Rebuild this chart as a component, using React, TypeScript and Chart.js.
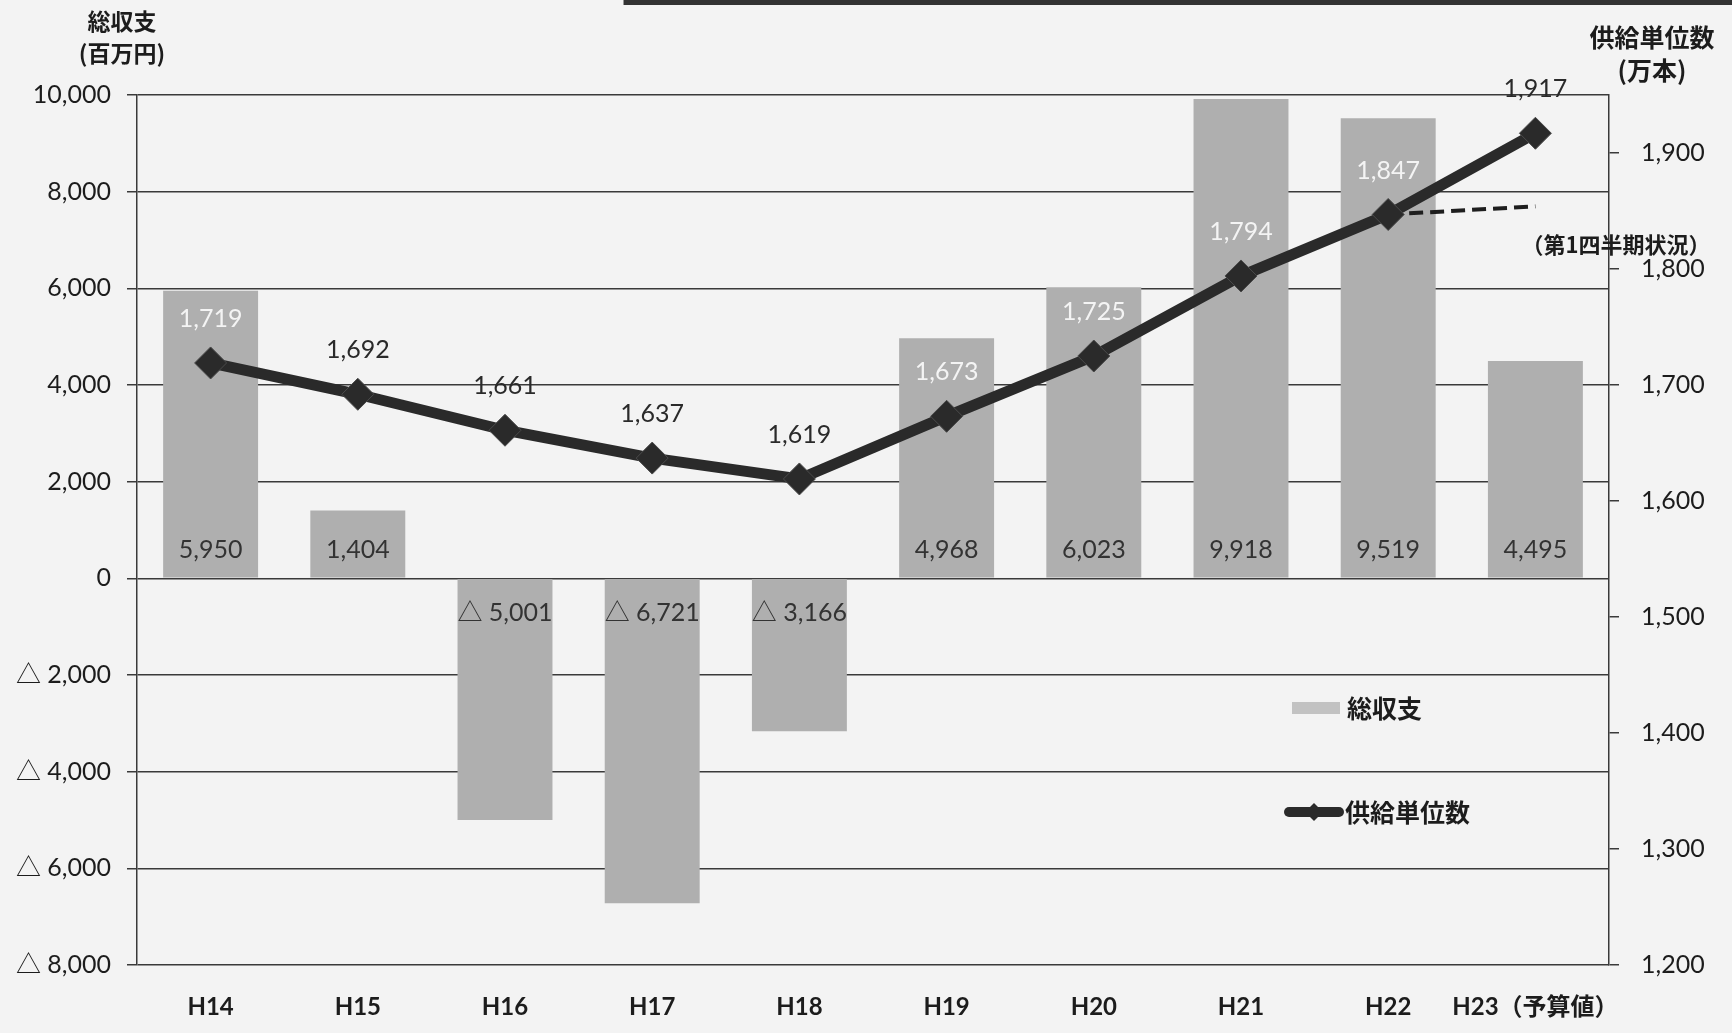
import React, { useEffect, useRef } from 'react';
import { Chart, registerables } from 'chart.js';

Chart.register(...registerables);

// ---------- data ----------
const CATEGORIES = ['H14', 'H15', 'H16', 'H17', 'H18', 'H19', 'H20', 'H21', 'H22', 'H23（予算値）'];
const BALANCE = [5950, 1404, -5001, -6721, -3166, 4968, 6023, 9918, 9519, 4495]; // 総収支 (百万円)
const SUPPLY = [1719, 1692, 1661, 1637, 1619, 1673, 1725, 1794, 1847, 1917]; // 供給単位数 (万本)
const Q1_STATUS: (number | null)[] = [null, null, null, null, null, null, null, null, 1847, 1854];
const LEFT_MIN = -8000;
const LEFT_MAX = 10000;
const LEFT_STEP = 2000;
const RIGHT_TICKS = [1200, 1300, 1400, 1500, 1600, 1700, 1800, 1900];
const RIGHT_MIN = 1200;
const RIGHT_MAX = 1950;
const LEFT_TITLE = ['総収支', '(百万円)'];
const RIGHT_TITLE = ['供給単位数', '(万本)'];
const Q1_LABEL = '（第1四半期状況）';
const LEGEND_BAR = '総収支';
const LEGEND_LINE = '供給単位数';

// ---------- styles ----------
const FONT = 'Lato, "Noto Sans CJK JP", sans-serif';
const CJK = '"Noto Sans CJK JP", Lato, sans-serif';
const BG = '#f3f3f3';
const BAR_COLOR = '#afafaf';
const LINE_COLOR = '#2a2a2a';
const GRID_COLOR = '#3a3a3a';
const TEXT = '#1c1c1c';

const fmtNum = (v: number) => Math.abs(v).toLocaleString('en-US');
const fmtSigned = (v: number) => (v < 0 ? '△ ' + fmtNum(v) : fmtNum(v));

const bgPlugin = {
  id: 'bgPlugin',
  beforeDraw(chart: any) {
    const { ctx, width, height } = chart;
    ctx.save();
    ctx.fillStyle = BG;
    ctx.fillRect(0, 0, width, height);
    // scanned page frame line at the top
    ctx.fillStyle = '#333';
    ctx.fillRect(width * 0.36, 0, width, 5);
    ctx.restore();
  },
};

const labelsPlugin = {
  id: 'labelsPlugin',
  afterDatasetsDraw(chart: any) {
    const { ctx } = chart;
    const barMeta = chart.getDatasetMeta(0);
    const lineMeta = chart.getDatasetMeta(1);
    ctx.save();
    ctx.textAlign = 'center';
    ctx.textBaseline = 'middle';
    ctx.font = `25px ${FONT}`;
    // bar labels near the base
    barMeta.data.forEach((bar: any, i: number) => {
      const v = BALANCE[i];
      const y = v >= 0 ? bar.base - 28 : bar.base + 34;
      ctx.fillStyle = '#333';
      ctx.fillText(fmtSigned(v), bar.x, y);
    });
    // line labels above points
    lineMeta.data.forEach((pt: any, i: number) => {
      const x = pt.x;
      const y = pt.y - 44;
      const bar = barMeta.data[i];
      const top = Math.min(bar.y, bar.base);
      const bottom = Math.max(bar.y, bar.base);
      const inside = Math.abs(x - bar.x) < bar.width / 2 && y > top + 8 && y < bottom;
      ctx.fillStyle = inside ? '#f4f4f4' : '#2a2a2a';
      ctx.fillText(fmtNum(SUPPLY[i]), x, y);
    });
    ctx.restore();
  },
  afterDraw(chart: any) {
    const { ctx, chartArea } = chart;
    const { left, right, top } = chartArea;
    ctx.save();
    ctx.fillStyle = TEXT;
    ctx.textAlign = 'center';
    ctx.textBaseline = 'middle';
    ctx.font = `bold 23px ${CJK}`;
    ctx.fillText(LEFT_TITLE[0], left - 15, 21);
    ctx.fillText(LEFT_TITLE[1], left - 15, 53);
    ctx.font = `bold 25px ${CJK}`;
    ctx.fillText(RIGHT_TITLE[0], right + 43, 37);
    ctx.fillText(RIGHT_TITLE[1], right + 43, 70);

    // annotation for the dashed line
    const dMeta = chart.getDatasetMeta(2);
    const last = dMeta.data[dMeta.data.length - 1];
    ctx.textAlign = 'left';
    ctx.font = `bold 22px ${CJK}`;
    ctx.fillText(Q1_LABEL, last.x - 14, last.y + 38);

    // legend
    const ly1 = top + 613;
    const ly2 = top + 717;
    ctx.fillStyle = '#c2c2c2';
    ctx.fillRect(right - 317, ly1 - 6, 48, 12);
    ctx.strokeStyle = LINE_COLOR;
    ctx.lineWidth = 10;
    ctx.lineCap = 'round';
    ctx.beginPath();
    ctx.moveTo(right - 320, ly2);
    ctx.lineTo(right - 270, ly2);
    ctx.stroke();
    const cx = right - 295;
    ctx.fillStyle = LINE_COLOR;
    ctx.beginPath();
    ctx.moveTo(cx, ly2 - 9);
    ctx.lineTo(cx + 9, ly2);
    ctx.lineTo(cx, ly2 + 9);
    ctx.lineTo(cx - 9, ly2);
    ctx.closePath();
    ctx.fill();
    ctx.fillStyle = TEXT;
    ctx.font = `bold 25px ${CJK}`;
    ctx.fillText(LEGEND_BAR, right - 262, ly1);
    ctx.fillText(LEGEND_LINE, right - 264, ly2);
    ctx.restore();
  },
};

export default function App() {
  const ref = useRef<HTMLCanvasElement | null>(null);

  useEffect(() => {
    document.body.style.margin = '0';
    if (!ref.current) return;
    const chart = new Chart(ref.current, {
      type: 'bar',
      data: {
        labels: CATEGORIES,
        datasets: [
          {
            type: 'bar',
            label: LEGEND_BAR,
            data: BALANCE,
            backgroundColor: BAR_COLOR,
            borderWidth: 0,
            barPercentage: 0.645,
            categoryPercentage: 1,
            yAxisID: 'y',
            order: 3,
          },
          {
            type: 'line',
            label: LEGEND_LINE,
            data: SUPPLY,
            borderColor: LINE_COLOR,
            borderWidth: 11,
            backgroundColor: LINE_COLOR,
            pointStyle: 'rectRot',
            pointRadius: 16,
            pointBackgroundColor: LINE_COLOR,
            pointBorderColor: '#4a4a4a',
            pointBorderWidth: 1,
            tension: 0,
            yAxisID: 'y1',
            order: 1,
          },
          {
            type: 'line',
            label: Q1_LABEL,
            data: Q1_STATUS,
            borderColor: '#1e1e1e',
            borderWidth: 4,
            borderDash: [14, 7],
            pointRadius: 0,
            tension: 0,
            yAxisID: 'y1',
            order: 2,
          },
        ] as any,
      },
      options: {
        animation: false,
        responsive: false,
        devicePixelRatio: 1,
        layout: { padding: { top: 95, left: 0, right: 0, bottom: 0 } },
        plugins: {
          legend: { display: false },
          tooltip: { enabled: false },
          title: { display: false },
        },
        scales: {
          x: {
            offset: true,
            grid: { display: false, drawTicks: false },
            border: { display: false },
            ticks: {
              color: TEXT,
              font: { family: FONT, size: 24, weight: 'bold' },
              padding: 28,
              maxRotation: 0,
              autoSkip: false,
            },
            afterFit: (s: any) => {
              s.height = 68;
            },
          },
          y: {
            position: 'left',
            min: LEFT_MIN,
            max: LEFT_MAX,
            ticks: {
              stepSize: LEFT_STEP,
              color: TEXT,
              font: { family: FONT, size: 25 },
              padding: 16,
              callback: (v: any) => fmtSigned(Number(v)),
            },
            grid: { color: GRID_COLOR, lineWidth: 1.5, tickLength: 10 },
            border: { display: true, color: GRID_COLOR, width: 1.5 },
            afterFit: (s: any) => {
              s.width = 137;
            },
          },
          y1: {
            position: 'right',
            min: RIGHT_MIN,
            max: RIGHT_MAX,
            afterBuildTicks: (s: any) => {
              s.ticks = RIGHT_TICKS.map((v) => ({ value: v }));
            },
            ticks: {
              color: TEXT,
              font: { family: FONT, size: 25 },
              padding: 22,
              callback: (v: any) => Number(v).toLocaleString('en-US'),
            },
            grid: { drawOnChartArea: false, color: GRID_COLOR, lineWidth: 1.5, tickLength: 10 },
            border: { display: true, color: GRID_COLOR, width: 1.5 },
            afterFit: (s: any) => {
              s.width = 123;
            },
          },
        },
      } as any,
      plugins: [bgPlugin, labelsPlugin],
    });
    return () => chart.destroy();
  }, []);

  return (
    <div style={{ width: 1732, height: 1033 }}>
      <canvas ref={ref} width={1732} height={1033} style={{ display: 'block', width: 1732, height: 1033 }} />
    </div>
  );
}
